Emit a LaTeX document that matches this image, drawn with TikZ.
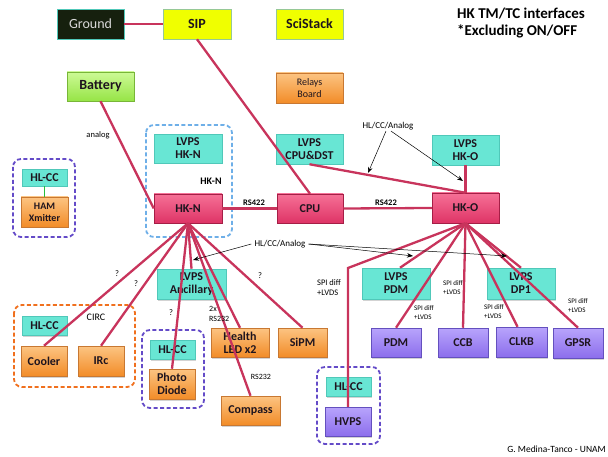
\documentclass[tikz,border=0pt]{standalone}
\usepackage{fontspec}
\setmainfont{Carlito}
\usetikzlibrary{shadows,arrows.meta,calc}

\definecolor{linkred}{RGB}{200,52,92}
\definecolor{pinktop}{RGB}{246,112,150}
\definecolor{pinkbot}{RGB}{222,52,102}
\definecolor{pinkedge}{RGB}{165,30,70}
\definecolor{cyanfill}{RGB}{104,230,212}
\definecolor{cyanedge}{RGB}{80,200,185}
\definecolor{orangetop}{RGB}{252,196,130}
\definecolor{orangebot}{RGB}{242,140,40}
\definecolor{orangeedge}{RGB}{200,120,50}
\definecolor{purpletop}{RGB}{184,164,252}
\definecolor{purplebot}{RGB}{140,110,236}
\definecolor{purpleedge}{RGB}{100,80,190}
\definecolor{yellowfill}{RGB}{240,255,0}
\definecolor{yellowedge}{RGB}{150,200,150}
\definecolor{greentop}{RGB}{205,250,150}
\definecolor{greenbot}{RGB}{150,228,70}
\definecolor{groundfill}{RGB}{22,32,14}
\definecolor{grpblue}{RGB}{110,175,232}
\definecolor{grppurple}{RGB}{100,75,200}
\definecolor{grporange}{RGB}{240,112,30}
\definecolor{hamlink}{RGB}{40,190,60}
\definecolor{inktext}{RGB}{30,20,30}

\tikzset{
  bx/.style={rectangle, inner sep=1pt, align=center, line width=0.5pt, text=inktext,
    font=\bfseries\fontsize{12}{13}\selectfont,
    drop shadow={opacity=0.35, shadow xshift=1.2pt, shadow yshift=-1.5pt}},
  pinkbx/.style={bx, top color=pinktop, bottom color=pinkbot, draw=pinkedge},
  cyanbx/.style={bx, fill=cyanfill, draw=cyanedge},
  orangebx/.style={bx, top color=orangetop, bottom color=orangebot, draw=orangeedge},
  purplebx/.style={bx, top color=purpletop, bottom color=purplebot, draw=purpleedge},
  yellowbx/.style={bx, fill=yellowfill, draw=yellowedge, font=\bfseries\fontsize{14}{16}\selectfont},
  greenbx/.style={bx, top color=greentop, bottom color=greenbot, draw=greenbot!80!black,
    font=\bfseries\fontsize{14}{16}\selectfont},
  darkbx/.style={bx, fill=groundfill, draw=cyanedge, text=white!85!black,
    font=\fontsize{14}{16}\selectfont},
  conn/.style={draw=linkred, line width=2.3pt},
  grp/.style={rounded corners=8pt, line width=1.8pt, dash pattern=on 4pt off 2.5pt},
  note/.style={draw=black, line width=0.5pt, -{Stealth[length=6pt,width=4.5pt]}},
  lbl/.style={font=\fontsize{8.5}{10}\selectfont, inner sep=0pt},
  small/.style={font=\fontsize{7}{9}\selectfont, inner sep=0pt, align=left},
}

\begin{document}
\begin{tikzpicture}[x=1pt,y=-1pt]
\useasboundingbox (0,0) rectangle (608,457);

% dashed groupings
\draw[grp, draw=grppurple] (13,159) rectangle (75,237);
\draw[grp, draw=grpblue]   (146,125) rectangle (232,237);
\draw[grp, draw=grporange] (14,305) rectangle (135,387);
\draw[grp, draw=grppurple] (142,330) rectangle (204,408);
\draw[grp, draw=grppurple] (317,367) rectangle (380,444);

% top row
\node[darkbx,   minimum width=67pt, minimum height=30pt] (ground)   at (90.5,24) {Ground};
\node[yellowbx, minimum width=68pt, minimum height=30pt] (sip)      at (197,24) {SIP};
\node[yellowbx, minimum width=67pt, minimum height=30pt] (scistack) at (309.5,24) {SciStack};
\node[greenbx,  minimum width=67pt, minimum height=29pt] (battery)  at (100.5,86.5) {Battery};
\node[orangebx, minimum width=67pt, minimum height=30pt,
      font=\fontsize{10}{12}\selectfont] (relays) at (309.5,88) {Relays\\Board};

% housekeeping boards and their supplies
\node[cyanbx, minimum width=68pt, minimum height=29pt] (lvpsn)   at (188,148.5) {LVPS\\HK-N};
\node[pinkbx, minimum width=68pt, minimum height=29pt] (hkn)     at (188,208.5) {HK-N};
\node[cyanbx, minimum width=67pt, minimum height=30pt] (lvpscpu) at (309.5,149) {LVPS\\CPU\&DST};
\node[pinkbx, minimum width=66pt, minimum height=29pt] (cpu)     at (310,208.5) {CPU};
\node[cyanbx, minimum width=67pt, minimum height=30pt] (lvpsho)  at (465.5,150) {LVPS\\HK-O};
\node[pinkbx, minimum width=67pt, minimum height=30pt] (hko)     at (465.5,208) {HK-O};

% HAM transmitter
\node[cyanbx,   minimum width=45pt, minimum height=17pt] (hlccham) at (44.5,177.5) {HL-CC};
\node[orangebx, minimum width=47pt, minimum height=30pt,
      font=\bfseries\fontsize{10}{12}\selectfont] (ham) at (44.5,212) {HAM\\Xmitter};

% CIRC
\node[cyanbx,   minimum width=45pt, minimum height=19pt] (hlcccirc) at (44.5,325.5) {HL-CC};
\node[orangebx, minimum width=46pt, minimum height=30pt] (cooler)   at (44,361) {Cooler};
\node[orangebx, minimum width=46pt, minimum height=30pt] (irc)      at (101,361) {IRc};

% ancillary
\node[cyanbx,   minimum width=69pt, minimum height=30pt] (lvpsanc) at (191.5,284) {LVPS\\Ancillary};
\node[cyanbx,   minimum width=45pt, minimum height=19pt] (hlccpd)  at (172.5,349.5) {HL-CC};
\node[orangebx, minimum width=46pt, minimum height=30pt] (photo)   at (172,384) {Photo\\Diode};
\node[orangebx, minimum width=58pt, minimum height=29pt] (health)  at (240,342.5) {Health\\LED x2};
\node[orangebx, minimum width=59pt, minimum height=29pt] (compass) at (250.5,410.5) {Compass};
\node[orangebx, minimum width=49pt, minimum height=29pt] (sipm)    at (302.5,342.5) {SiPM};

% optical side
\node[cyanbx,   minimum width=68pt, minimum height=31pt] (lvpspdm) at (396,283.5) {LVPS\\PDM};
\node[cyanbx,   minimum width=68pt, minimum height=31pt] (lvpsdp1) at (521,283.5) {LVPS\\DP1};
\node[purplebx, minimum width=50pt, minimum height=29pt] (pdm)  at (396,342.5) {PDM};
\node[purplebx, minimum width=50pt, minimum height=29pt] (ccb)  at (463,342.5) {CCB};
\node[purplebx, minimum width=51pt, minimum height=30pt] (clkb) at (521.5,342) {CLKB};
\node[purplebx, minimum width=50pt, minimum height=30pt] (gpsr) at (578,343) {GPSR};
\node[cyanbx,   minimum width=45pt, minimum height=19pt] (hlcchv) at (348.5,386.5) {HL-CC};
\node[purplebx, minimum width=46pt, minimum height=29pt] (hvps)   at (348,421.5) {HVPS};

% links
\draw[draw=hamlink, line width=1.5pt] (hlccham.south) -- (ham.north);
\draw[conn] (ground.east) -- (sip.west);
\draw[conn] (sip.south) -- (cpu.north);
\draw[conn] (battery.south) -- (hkn.west);
\draw[conn] (hkn.east) -- (cpu.west);
\draw[conn] (cpu.east) -- (hko.west);
\draw[conn] (lvpscpu.south) -- (hko.north);
\draw[conn] (lvpsho.south) -- (hko.north);

\draw[conn] (hkn.south) -- (cooler.north);
\draw[conn] (hkn.south) -- (irc.north);
\draw[conn] (hkn.south) -- (lvpsanc.north);
\draw[conn] (hkn.south) -- (photo.north);
\draw[conn] (hkn.south) -- (health.north);
\draw[conn] (hkn.south) -- (compass.north);
\draw[conn] (hkn.south) -- (sipm.north);

\coordinate (hvbend) at (348,268);
\draw[conn] (hko.south) -- (hvbend) -- (hvps.north);
\draw[conn] (hko.south) -- ([xshift=4pt]lvpspdm.north);
\draw[conn] (hko.south) -- (pdm.north);
\draw[conn] (hko.south) -- (ccb.north);
\draw[conn] (hko.south) -- ([xshift=-4pt]clkb.north);
\draw[conn] (hko.south) -- (lvpsdp1.north);
\draw[conn] (hko.south) -- (gpsr.north);

% interface annotations
\node[lbl, font=\fontsize{9}{10}\selectfont] (anaup) at (388,126) {HL/CC/Analog};
\coordinate (anaupl) at (368,173);
\coordinate (anaupr) at (463,181);
\draw[note] ([xshift=-2pt,yshift=-1pt]anaup.south) -- (anaupl);
\draw[note] ([xshift=3pt,yshift=-1pt]anaup.south) -- (anaupr);

\node[lbl, font=\fontsize{9}{10}\selectfont] (analow) at (280,244) {HL/CC/Analog};
\coordinate (analowa) at (193,260);
\coordinate (analowb) at (413,256);
\coordinate (analowc) at (507,256);
\draw[note] ([xshift=-3pt]analow.west) -- (analowa);
\draw[note] ([xshift=3pt]analow.east) -- (analowb);
\draw[note] ([xshift=3pt]analow.east) -- (analowc);

\node[lbl] (analog) at (98,135) {analog};
\node[lbl, font=\bfseries\fontsize{10}{12}\selectfont] (hknlbl) at (211,181) {HK-N};
\node[lbl, font=\bfseries\fontsize{8.5}{10}\selectfont] (rsa) at (254,203) {RS422};
\node[lbl, font=\bfseries\fontsize{8.5}{10}\selectfont] (rsb) at (386,203) {RS422};
\node[lbl] (qa) at (117,274) {?};
\node[lbl] (qb) at (136,284) {?};
\node[lbl] (qc) at (171,313) {?};
\node[lbl] (qd) at (260,276) {?};
\node[lbl, font=\fontsize{10}{12}\selectfont] (circ) at (96,317) {CIRC};
\node[small, font=\fontsize{8}{10.5}\selectfont, anchor=west] (rs232a) at (209,314) {2x\\RS232};
\node[small, font=\fontsize{8}{10}\selectfont] (rs232b) at (261,377) {RS232};

\node[small, font=\fontsize{8.5}{10}\selectfont] (spia) at (329,288) {SPI diff\\+LVDS};
\node[small] (spib) at (424,313) {SPI diff\\+LVDS};
\node[small] (spic) at (453,288) {SPI diff\\+LVDS};
\node[small] (spid) at (494,312) {SPI diff\\+LVDS};
\node[small] (spie) at (578,306) {SPI diff\\+LVDS};

\node[anchor=north west, align=left, inner sep=0pt,
      font=\bfseries\fontsize{15}{17}\selectfont] (title) at (457,8)
      {HK TM/TC interfaces\\*Excluding ON/OFF};
\node[anchor=east, inner sep=0pt, font=\fontsize{9.5}{11}\selectfont] (credit) at (606,449)
      {G. Medina-Tanco - UNAM};
\end{tikzpicture}
\end{document}
